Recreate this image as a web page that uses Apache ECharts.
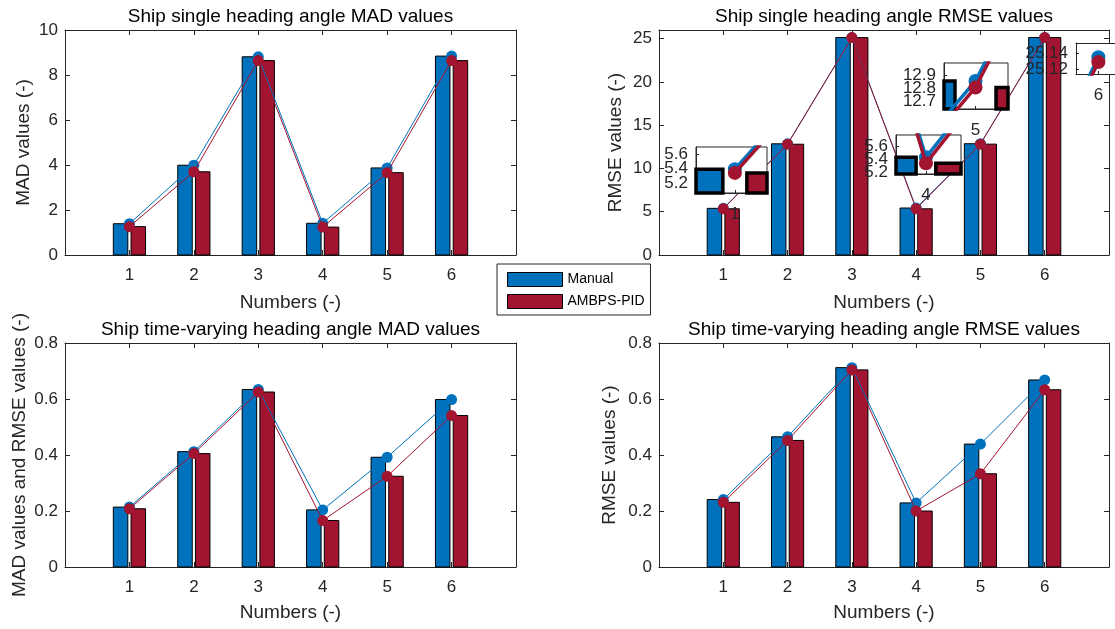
<!DOCTYPE html>
<html><head><meta charset="utf-8">
<script src="https://cdn.jsdelivr.net/npm/echarts@6/dist/echarts.min.js"></script>
<style>html,body{margin:0;padding:0;background:#fff}#c{width:1115px;height:629px}</style>
</head><body><div id="c"></div>
<script>
// ---------------- data ----------------
const categories = [1, 2, 3, 4, 5, 6];
const seriesNames = ['Manual', 'AMBPS-PID'];

const madSingleManual = [1.39, 3.99, 8.81, 1.41, 3.87, 8.84];
const madSingleAmbps  = [1.26, 3.70, 8.64, 1.24, 3.66, 8.64];
const rmseSingleManual = [5.39, 12.85, 25.13, 5.43, 12.86, 25.135];
const rmseSingleAmbps  = [5.34, 12.80, 25.12, 5.34, 12.81, 25.129];
const madVaryManual = [0.214, 0.412, 0.634, 0.204, 0.392, 0.598];
const madVaryAmbps  = [0.208, 0.405, 0.625, 0.166, 0.324, 0.541];
const rmseVaryManual = [0.241, 0.465, 0.712, 0.229, 0.439, 0.668];
const rmseVaryAmbps  = [0.231, 0.452, 0.704, 0.200, 0.333, 0.633];

const madSingleYTicks = [0, 2, 4, 6, 8, 10];
const rmseSingleYTicks = [0, 5, 10, 15, 20, 25];
const varyYTicks = [0, 0.2, 0.4, 0.6, 0.8];
const inset1YTicks = [5.2, 5.4, 5.6];
const inset2YTicks = [5.2, 5.4, 5.6];
const inset3YTicks = [12.7, 12.8, 12.9];
const inset4YTicks = [25.12, 25.14];

// ---------------- styles ----------------
const FONT = 'Liberation Sans, Arial, Helvetica, sans-serif';
const AX = '#262626';
const BLUE = '#0072BD', RED = '#A2142F';
const COLORS = [BLUE, RED];

function pairs(vals) { return categories.map((c, i) => [c, vals[i]]); }

function barRender(off0, off1, color, lw) {
  return function (params, api) {
    const x = api.value(0), y = api.value(1);
    const p0 = api.coord([x + off0, y]);
    const p1 = api.coord([x + off1, 0]);
    const cs = params.coordSys;
    const rect = { x: p0[0], y: p0[1], width: p1[0] - p0[0], height: p1[1] - p0[1] };
    const c = echarts.graphic.clipRectByRect(rect, { x: cs.x, y: cs.y, width: cs.width, height: cs.height });
    if (!c) return null;
    return { type: 'rect', shape: c, style: { fill: color, stroke: '#000', lineWidth: lw } };
  };
}

const mains = [
  { left: 65, top: 30, width: 451, height: 225, title: 'Ship single heading angle MAD values',
    yName: 'MAD values (-)', yTicks: madSingleYTicks, yMax: 10, yGap: 32, xGap: 38,
    vals: [madSingleManual, madSingleAmbps] },
  { left: 659, top: 30, width: 450, height: 225, title: 'Ship single heading angle RMSE values',
    yName: 'RMSE values (-)', yTicks: rmseSingleYTicks, yMax: 26, yGap: 34, xGap: 38,
    vals: [rmseSingleManual, rmseSingleAmbps] },
  { left: 65, top: 343, width: 451, height: 224, title: 'Ship time-varying heading angle MAD values',
    yName: 'MAD values and RMSE values (-)', yTicks: varyYTicks, yMax: 0.8, yGap: 36, xGap: 36,
    vals: [madVaryManual, madVaryAmbps] },
  { left: 659, top: 343, width: 450, height: 224, title: 'Ship time-varying heading angle RMSE values',
    yName: 'RMSE values (-)', yTicks: varyYTicks, yMax: 0.8, yGap: 40, xGap: 36,
    vals: [rmseVaryManual, rmseVaryAmbps] }
];

const insets = [
  { left: 696, top: 147, width: 71, height: 46, cat: 1, xMin: 0.919, xMax: 1.067, yMin: 5.06, yMax: 5.70, yTicks: inset1YTicks, open: false },
  { left: 896, top: 135, width: 65, height: 39, cat: 4, xMin: 3.924, xMax: 4.089, yMin: 5.18, yMax: 5.765, yTicks: inset2YTicks, open: false },
  { left: 944, top: 63, width: 64, height: 46, cat: 5, xMin: 4.9616, xMax: 5.0396, yMin: 12.644, yMax: 12.998, yTicks: inset3YTicks, open: false },
  { left: 1076, top: 43, width: 40, height: 31, cat: 6, xMin: 5.9953, xMax: 6.0035, yMin: 25.114, yMax: 25.153, yTicks: inset4YTicks, open: true }
];

const grid = [], xAxis = [], yAxis = [], series = [];
const labelStyle = { color: AX, fontSize: 17, fontFamily: FONT };
const nameStyle = { color: AX, fontSize: 19, fontFamily: FONT };
const offs = [[-0.25, -0.025], [0.025, 0.25]];
const axLine = { show: true, onZero: false, lineStyle: { color: AX, width: 1 } };

mains.forEach((m, i) => {
  grid.push({ left: m.left, top: m.top, width: m.width, height: m.height, containLabel: false });
  const interval = m.yTicks[1] - m.yTicks[0];
  const xi = xAxis.length, yi = yAxis.length;
  xAxis.push({ gridIndex: i, type: 'value', min: 0, max: 7, interval: 1, position: 'bottom',
    axisLine: axLine,
    axisTick: { inside: true, length: 5, customValues: categories, lineStyle: { color: AX } },
    axisLabel: { customValues: categories, margin: 12, ...labelStyle },
    splitLine: { show: false },
    name: 'Numbers (-)', nameLocation: 'middle', nameGap: m.xGap, nameTextStyle: nameStyle });
  xAxis.push({ gridIndex: i, type: 'value', min: 0, max: 7, interval: 1, position: 'top',
    axisLine: axLine,
    axisTick: { inside: true, length: 5, customValues: categories, lineStyle: { color: AX } },
    axisLabel: { show: false }, splitLine: { show: false },
    name: m.title, nameLocation: 'middle', nameGap: 3.5,
    nameTextStyle: { color: '#000', fontSize: 19, fontFamily: FONT } });
  yAxis.push({ gridIndex: i, type: 'value', min: 0, max: m.yMax, interval: interval, position: 'left',
    axisLine: axLine,
    axisTick: { inside: true, length: 5, customValues: m.yTicks, lineStyle: { color: AX } },
    axisLabel: { customValues: m.yTicks, margin: 7, showMinLabel: true, showMaxLabel: true, ...labelStyle },
    splitLine: { show: false },
    name: m.yName, nameLocation: 'middle', nameGap: m.yGap, nameRotate: 90, nameTextStyle: nameStyle });
  yAxis.push({ gridIndex: i, type: 'value', min: 0, max: m.yMax, interval: interval, position: 'right',
    axisLine: axLine,
    axisTick: { inside: true, length: 5, customValues: m.yTicks, lineStyle: { color: AX } },
    axisLabel: { show: false }, splitLine: { show: false } });

  [0, 1].forEach(s => {
    series.push({ type: 'custom', name: seriesNames[s], xAxisIndex: xi, yAxisIndex: yi, z: 2,
      renderItem: barRender(offs[s][0], offs[s][1], COLORS[s], 1),
      data: pairs(m.vals[s]), encode: { x: 0, y: 1 } });
  });
  [0, 1].forEach(s => {
    series.push({ type: 'line', name: seriesNames[s], xAxisIndex: xi, yAxisIndex: yi, z: 3 + s,
      data: pairs(m.vals[s]), symbol: 'circle', symbolSize: 11, showSymbol: true,
      lineStyle: { color: COLORS[s], width: 1 }, itemStyle: { color: COLORS[s] } });
  });
});

insets.forEach((ins, j) => {
  const gi = grid.length;
  grid.push({ left: ins.left, top: ins.top, width: ins.width, height: ins.height, show: true,
    backgroundColor: '#fff', borderColor: AX, borderWidth: ins.open ? 0 : 1, z: 10 });
  const xi = xAxis.length, yi = yAxis.length;
  xAxis.push({ gridIndex: gi, type: 'value', min: ins.xMin, max: ins.xMax, z: 11, position: 'bottom',
    axisLine: axLine,
    axisTick: { inside: true, length: 3, customValues: [ins.cat], lineStyle: { color: AX } },
    axisLabel: { customValues: [ins.cat], margin: 13, showMinLabel: true, showMaxLabel: true, ...labelStyle },
    splitLine: { show: false } });
  if (ins.open) {
    xAxis.push({ gridIndex: gi, type: 'value', min: ins.xMin, max: ins.xMax, z: 11, position: 'top',
      axisLine: axLine, axisTick: { show: false }, axisLabel: { show: false }, splitLine: { show: false } });
  }
  // one y axis per tick label so overlapping labels all stay visible
  ins.yTicks.forEach((t, k) => {
    yAxis.push({ gridIndex: gi, type: 'value', min: ins.yMin, max: ins.yMax, z: 11, position: 'left', offset: 0,
      axisLine: { ...axLine, show: k === 0 },
      axisTick: { show: true, inside: true, length: 3, customValues: [t], lineStyle: { color: AX } },
      axisLabel: { customValues: [t], margin: 8, showMinLabel: true, showMaxLabel: true, ...labelStyle },
      splitLine: { show: false } });
  });
  [0, 1].forEach(s => {
    series.push({ type: 'custom', name: seriesNames[s], xAxisIndex: xi, yAxisIndex: yi, z: 12,
      renderItem: barRender(offs[s][0], offs[s][1], COLORS[s], 3.5),
      data: pairs(mains[1].vals[s]), encode: { x: 0, y: 1 } });
  });
  [0, 1].forEach(s => {
    series.push({ type: 'line', name: seriesNames[s], xAxisIndex: xi, yAxisIndex: yi, z: 13 + s,
      clip: true, data: pairs(mains[1].vals[s]), symbol: 'circle', symbolSize: 14,
      lineStyle: { color: COLORS[s], width: 3.5 }, itemStyle: { color: COLORS[s] } });
  });
});

const chart = echarts.init(document.getElementById('c'), null, { renderer: 'canvas' });
chart.setOption({
  animation: false,
  backgroundColor: '#fff',
  textStyle: { fontFamily: FONT },
  grid, xAxis, yAxis, series,
  legend: {
    left: 497, top: 264, orient: 'vertical', padding: [8, 6, 6, 10], itemGap: 7,
    itemWidth: 55, itemHeight: 14, borderColor: AX, borderWidth: 1, backgroundColor: '#fff',
    textStyle: { color: '#000', fontSize: 14, fontFamily: FONT }, z: 20,
    data: [
      { name: seriesNames[0], icon: 'rect', itemStyle: { color: BLUE, borderColor: '#000', borderWidth: 1 } },
      { name: seriesNames[1], icon: 'rect', itemStyle: { color: RED, borderColor: '#000', borderWidth: 1 } }
    ]
  }
});
</script></body></html>
